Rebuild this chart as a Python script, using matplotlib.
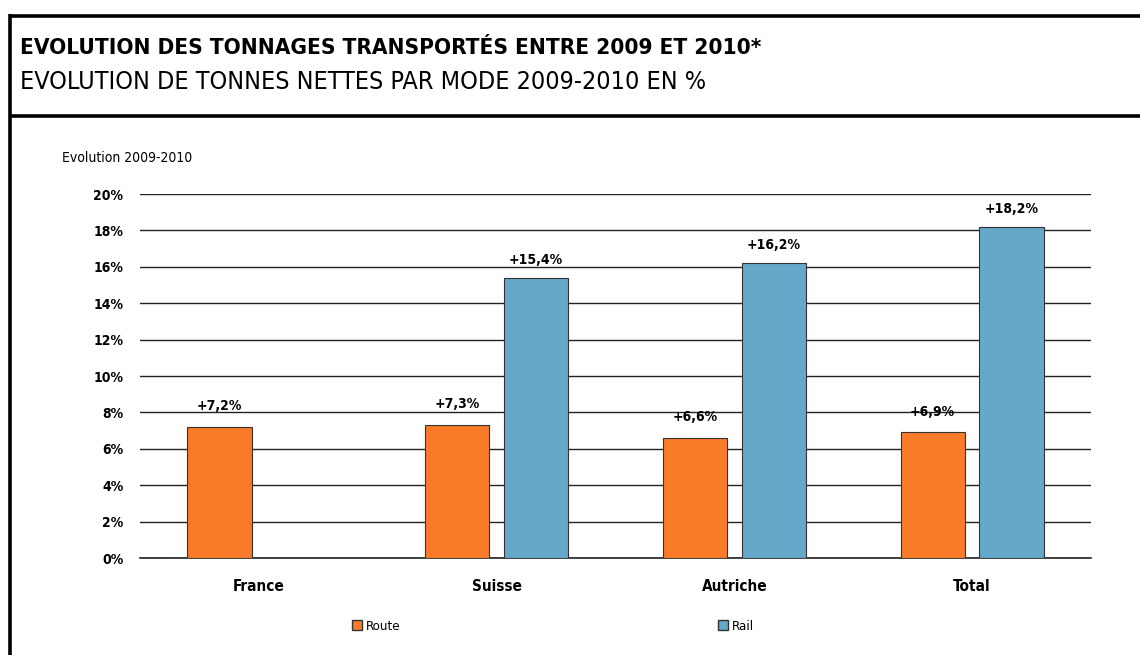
import numpy as np
import matplotlib
matplotlib.use("Agg")
from matplotlib import pyplot as plt
import matplotlib.patches as patches
from matplotlib.lines import Line2D

plt.rcParams['font.family'] = ['DejaVu Sans']
plt.rcParams['font.stretch'] = 'condensed'

categories = ['France', 'Suisse', 'Autriche', 'Total']
route = [7.2, 7.3, 6.6, 6.9]
rail = [np.nan, 15.4, 16.2, 18.2]
route_labels = ['+7,2%', '+7,3%', '+6,6%', '+6,9%']
rail_labels = ['', '+15,4%', '+16,2%', '+18,2%']
yticks = [0, 2, 4, 6, 8, 10, 12, 14, 16, 18, 20]

W, H = 1140, 655
ROUTE_COLOR = '#F97A28'
RAIL_COLOR = '#66A8C9'

fig = plt.figure(figsize=(W / 100, H / 100), dpi=100)

# frame lines (left rule + two horizontal rules)
def px(x, y):
    return x / W, 1 - y / H

for (x0, y0), (x1, y1) in [((10, 14), (10, 655)), ((10, 15.5), (1140, 15.5)), ((10, 115.5), (1140, 115.5))]:
    a, b = px(x0, y0)
    c, d = px(x1, y1)
    fig.add_artist(Line2D([a, c], [b, d], color='black', lw=2.6, solid_capstyle='butt'))

fig.text(20 / W, 1 - 48 / H, 'EVOLUTION DES TONNAGES TRANSPORTÉS ENTRE 2009 ET 2010*',
         fontsize=16.2, fontweight='bold', va='center', ha='left')
fig.text(20 / W, 1 - 82 / H, 'EVOLUTION DE TONNES NETTES PAR MODE 2009-2010 EN %',
         fontsize=18, va='center', ha='left')
fig.text(62 / W, 1 - 158 / H, 'Evolution 2009-2010', fontsize=10, va='center', ha='left')

ax = fig.add_axes([140 / W, 97 / H, 951 / W, 364 / H])
x = np.arange(len(categories))
width = 0.27
off = 0.166
ax.bar(x - off, route, width, color=ROUTE_COLOR, edgecolor='#333333', linewidth=0.8, zorder=3, label='Route')
ax.bar(x + off, rail, width, color=RAIL_COLOR, edgecolor='#333333', linewidth=0.8, zorder=3, label='Rail')

for xi, v, t in zip(x - off, route, route_labels):
    ax.annotate(t, (xi, v), xytext=(0, 10), textcoords='offset points', ha='center', va='bottom',
                fontsize=10, fontweight='bold')
for xi, v, t in zip(x + off, rail, rail_labels):
    if t:
        ax.annotate(t, (xi, v), xytext=(0, 8), textcoords='offset points', ha='center', va='bottom',
                    fontsize=10, fontweight='bold')

ax.set_xlim(-0.5, len(categories) - 0.5)
ax.set_ylim(0, 20)
ax.set_yticks(yticks)
ax.set_yticklabels([f'{t}%' for t in yticks], fontsize=10, fontweight='bold')
ax.set_xticks(x)
ax.set_xticklabels(categories, fontsize=11, fontweight='bold')
ax.tick_params(axis='both', length=0)
ax.tick_params(axis='y', pad=12)
ax.tick_params(axis='x', pad=15)
ax.grid(axis='y', color='#222222', linewidth=1, zorder=0)
for s in ax.spines.values():
    s.set_visible(False)
ax.spines['bottom'].set_visible(True)
ax.spines['bottom'].set_color('#222222')
ax.spines['bottom'].set_linewidth(1.2)

fig.legend(handles=[patches.Patch(facecolor=ROUTE_COLOR, edgecolor='#333333'),
                    patches.Patch(facecolor=RAIL_COLOR, edgecolor='#333333')],
           labels=['Route', 'Rail'], ncol=2, loc='center', bbox_to_anchor=(553 / W, 1 - 626 / H),
           frameon=False, fontsize=9.5, handlelength=0.8, handleheight=0.8, handletextpad=0.3,
           columnspacing=24)

plt.savefig('out.png', dpi=100)
